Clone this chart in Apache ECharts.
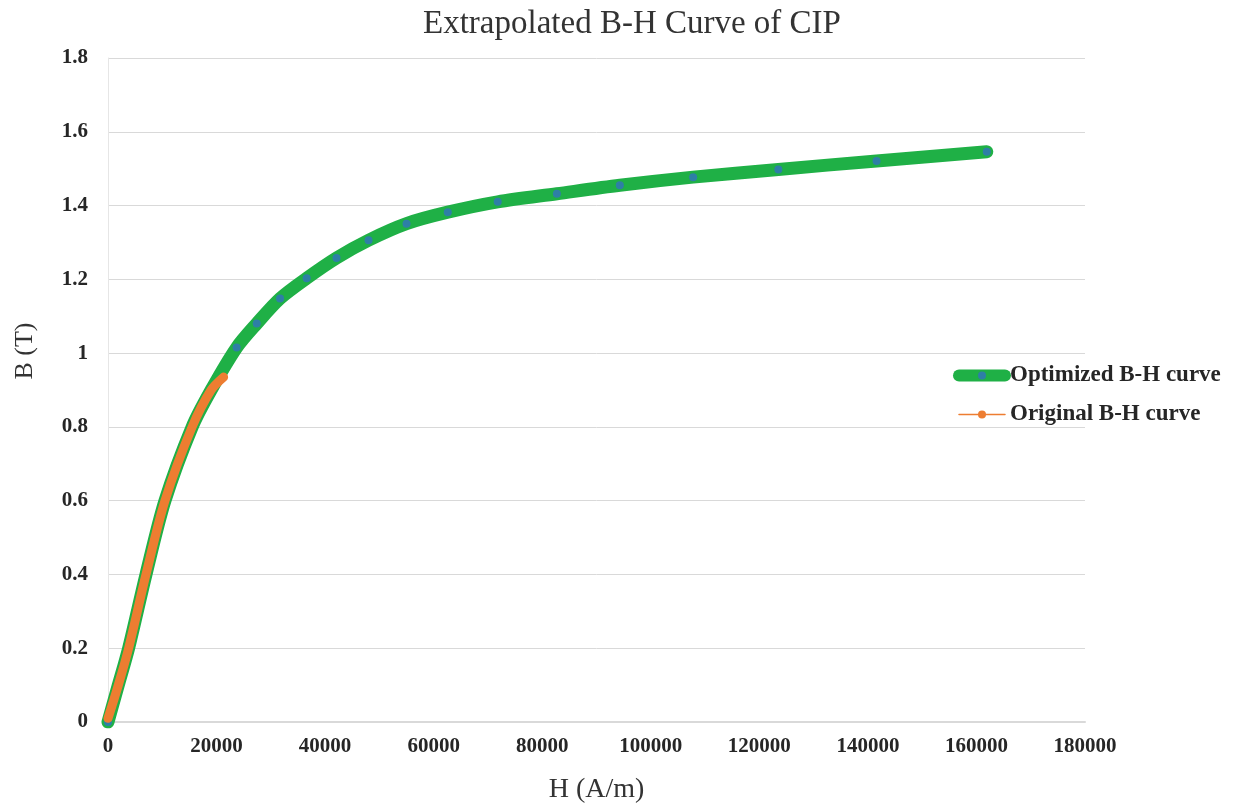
<!DOCTYPE html>
<html>
<head>
<meta charset="utf-8">
<script src="https://cdn.jsdelivr.net/npm/echarts@6/dist/echarts.min.js"></script>
<style>
  html, body { margin: 0; padding: 0; background: #ffffff; }
  #chart { width: 1233px; height: 807px; }
</style>
</head>
<body>
<div id="chart"></div>
<script>
// Axis ticks
const xTicks = { min: 0, max: 180000, step: 20000 };
const yTicks = { min: 0, max: 1.8, step: 0.2 };

// Optimized (extrapolated) B-H curve: H in A/m, B in T
const optimizedH = [0, 1900, 3800, 7000, 10500, 15500, 19000,
  23700, 27400, 31700, 36600, 42100, 48000, 55000, 62600, 71800, 82700,
  94300, 107800, 123500, 141600, 161900];
const optimizedB = [0, 0.1, 0.2, 0.4, 0.6, 0.8, 0.9,
  1.015, 1.08, 1.148, 1.203, 1.258, 1.306, 1.351, 1.382, 1.41, 1.432,
  1.455, 1.477, 1.498, 1.521, 1.546];

// Original measured B-H curve
const originalH = [0, 1900, 3800, 7000, 10500, 15500, 19000, 21300];
const originalB = [0.01, 0.1, 0.2, 0.4, 0.6, 0.8, 0.9, 0.935];

const seriesNames = ['Optimized B-H curve', 'Original B-H curve'];

const pairs = (xs, ys) => xs.map((x, i) => [x, ys[i]]);

const serif = "'Liberation Serif', 'DejaVu Serif', serif";
const textColor = '#262626';
const gridColor = '#d9d9d9';
const green = '#1fb046';
const blue = '#2e7fa6';
const orange = '#ed7d31';

const chart = echarts.init(document.getElementById('chart'), null, { renderer: 'canvas' });

chart.setOption({
  backgroundColor: '#ffffff',
  animation: false,
  title: {
    text: 'Extrapolated B-H Curve of CIP',
    left: 627,
    textAlign: 'center',
    top: 3,
    textStyle: { fontFamily: serif, fontSize: 33, fontWeight: 'normal', color: '#333333' }
  },
  grid: {
    left: 108, right: 148, top: 58, bottom: 85,
    containLabel: false,
    outerBoundsMode: 'none'
  },
  legend: {
    orient: 'vertical',
    left: 948,
    top: 359,
    itemGap: 16,
    itemWidth: 46,
    itemHeight: 10,
    textStyle: { fontFamily: serif, fontSize: 23, fontWeight: 'bold', color: textColor },
    data: [
      { name: seriesNames[0], lineStyle: { width: 12, color: green },
        itemStyle: { color: blue } },
      { name: seriesNames[1], lineStyle: { width: 1.5, color: orange },
        itemStyle: { color: orange } }
    ]
  },
  xAxis: {
    type: 'value',
    min: xTicks.min,
    max: xTicks.max,
    interval: xTicks.step,
    name: 'H (A/m)',
    nameLocation: 'middle',
    nameGap: 54,
    nameTextStyle: { fontFamily: serif, fontSize: 28, color: '#333333' },
    axisLine: { show: true, lineStyle: { color: gridColor, width: 2 } },
    axisTick: { show: false },
    splitLine: { show: false },
    axisLabel: {
      fontFamily: serif, fontSize: 21, fontWeight: 'bold', color: textColor, margin: 14,
      formatter: v => String(v)
    }
  },
  yAxis: {
    type: 'value',
    min: yTicks.min,
    max: yTicks.max,
    interval: yTicks.step,
    name: 'B (T)',
    nameLocation: 'middle',
    nameGap: 70,
    nameRotate: 90,
    nameTextStyle: { fontFamily: serif, fontSize: 26, color: '#333333', padding: [0, 0, 0, 78] },
    axisLine: { show: true, lineStyle: { color: '#e6e6e6', width: 1 } },
    axisTick: { show: false },
    splitLine: { show: true, lineStyle: { color: gridColor, width: 1 } },
    axisLabel: { fontFamily: serif, fontSize: 21, fontWeight: 'bold', color: textColor, margin: 20 }
  },
  series: [
    {
      name: seriesNames[0],
      type: 'line',
      data: pairs(optimizedH, optimizedB),
      smooth: 0.3,
      symbol: 'circle',
      symbolSize: 8,
      showSymbol: true,
      z: 2,
      lineStyle: { color: green, width: 13, cap: 'round', join: 'round' },
      itemStyle: { color: blue, borderWidth: 0 }
    },
    {
      name: seriesNames[1],
      type: 'line',
      data: pairs(originalH, originalB),
      smooth: 0.3,
      symbol: 'circle',
      symbolSize: 6,
      showSymbol: false,
      z: 3,
      lineStyle: { color: orange, width: 9, cap: 'round', join: 'round' },
      itemStyle: { color: orange }
    }
  ]
});
</script>
</body>
</html>
